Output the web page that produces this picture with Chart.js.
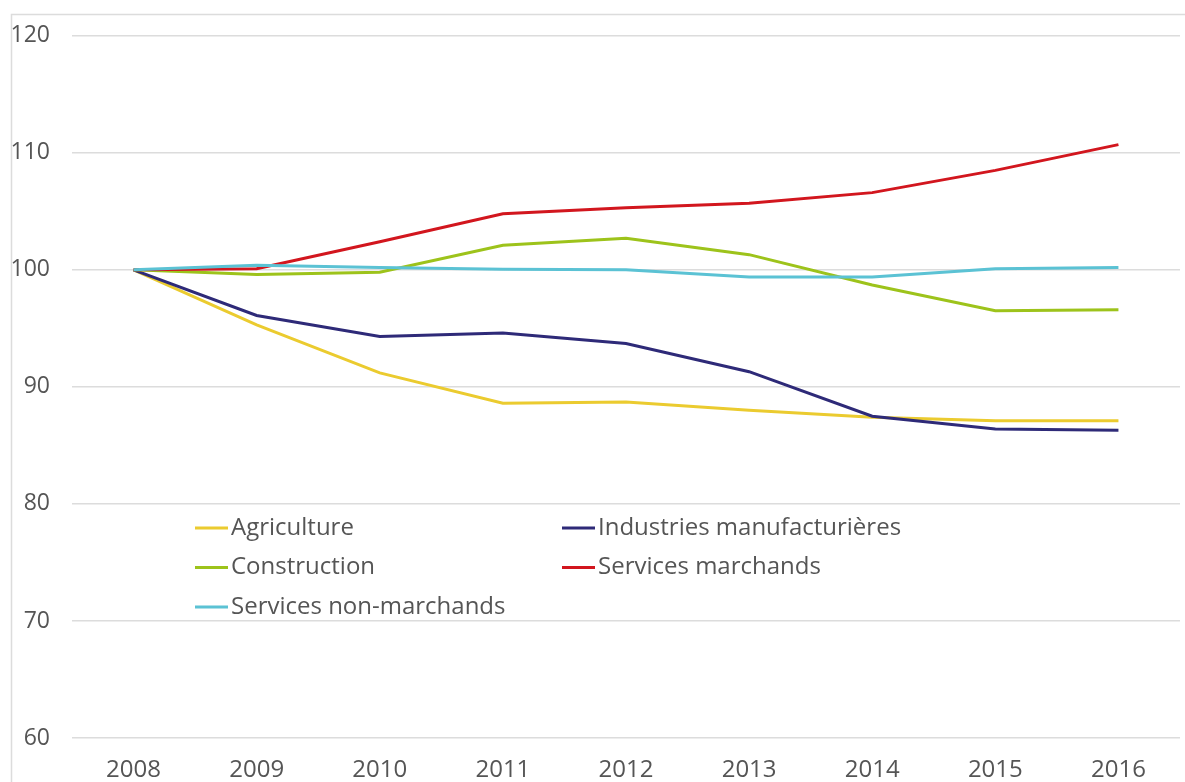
<!DOCTYPE html>
<html>
<head>
<meta charset="utf-8">
<script src="https://cdn.jsdelivr.net/npm/chart.js"></script>
<style>
  html, body { margin: 0; padding: 0; background: #fff; }
  #wrap { position: relative; width: 1185px; height: 782px; }
</style>
</head>
<body>
<div id="wrap"><canvas id="myChart"></canvas></div>
<script>
// data (index, 2008 = 100)
const years = ['2008', '2009', '2010', '2011', '2012', '2013', '2014', '2015', '2016'];
const agriculture = [100, 95.3, 91.2, 88.6, 88.7, 88.0, 87.4, 87.1, 87.1];
const industries = [100, 96.1, 94.3, 94.6, 93.7, 91.3, 87.5, 86.4, 86.3];
const construction = [100, 99.6, 99.8, 102.1, 102.7, 101.3, 98.7, 96.5, 96.6];
const servicesMarchands = [100, 100.1, 102.4, 104.8, 105.3, 105.7, 106.6, 108.5, 110.7];
const servicesNonMarchands = [100, 100.4, 100.2, 100.05, 100.0, 99.4, 99.4, 100.1, 100.2];
const seriesNames = ['Agriculture', 'Industries manufacturières', 'Construction', 'Services marchands', 'Services non-marchands'];
const yTicks = [60, 70, 80, 90, 100, 110, 120];

const colors = ['#EBCB2F', '#2E2A78', '#9DC31B', '#D2161E', '#5BC2D4'];
const allSeries = [agriculture, industries, construction, servicesMarchands, servicesNonMarchands];
const textColor = '#555555';
const gridColor = '#dcdcdc';

// grey frame around the whole picture (only top and left are visible)
const framePlugin = {
    id: 'frame',
    beforeDraw(chart) {
        const ctx = chart.ctx;
        ctx.save();
        ctx.strokeStyle = gridColor;
        ctx.lineWidth = 1.5;
        ctx.strokeRect(11.5, 14.5, chart.width + 10, chart.height + 10);
        ctx.restore();
    }
};

// legend in two columns inside the plot area
const legendPlugin = {
    id: 'gridLegend',
    afterDraw(chart) {
        const ctx = chart.ctx;
        const area = chart.chartArea;
        const x0 = area.left + 123;
        const colGap = 367;
        const y0 = 528;
        const rowGap = 39.5;
        ctx.save();
        ctx.font = '24px "Open Sans"';
        ctx.textBaseline = 'middle';
        ctx.textAlign = 'left';
        chart.data.datasets.forEach((ds, i) => {
            const col = i % 2;
            const row = Math.floor(i / 2);
            const x = x0 + col * colGap;
            const y = y0 + row * rowGap;
            ctx.strokeStyle = ds.borderColor;
            ctx.lineWidth = 3;
            ctx.beginPath();
            ctx.moveTo(x, y);
            ctx.lineTo(x + 33, y);
            ctx.stroke();
            ctx.fillStyle = textColor;
            ctx.fillText(ds.label, x + 36, y);
        });
        ctx.restore();
    }
};

const canvas = document.getElementById('myChart');
new Chart(canvas, {
    type: 'line',
    data: {
        labels: years,
        datasets: allSeries.map((data, i) => ({
            label: seriesNames[i],
            data: data,
            borderColor: colors[i],
            backgroundColor: colors[i],
            borderWidth: 3,
            pointRadius: 0,
            tension: 0,
            order: allSeries.length - i
        }))
    },
    options: {
        responsive: true,
        maintainAspectRatio: false,
        animation: false,
        layout: { padding: { left: 0, right: 5, top: 35, bottom: 0 } },
        plugins: {
            legend: { display: false },
            tooltip: { enabled: false }
        },
        scales: {
            x: {
                offset: true,
                grid: { display: false, drawTicks: false },
                border: { display: false },
                ticks: {
                    color: textColor,
                    font: { family: 'Open Sans', size: 24 },
                    padding: 18,
                    maxRotation: 0
                },
                afterFit: (scale) => { scale.height = 44; }
            },
            y: {
                min: 60,
                max: 120,
                afterBuildTicks: (scale) => { scale.ticks = yTicks.map(v => ({ value: v })); },
                grid: { color: gridColor, lineWidth: 1.5, drawTicks: false },
                border: { display: false },
                ticks: {
                    color: textColor,
                    font: { family: 'Open Sans', size: 23 },
                    padding: 22
                },
                afterFit: (scale) => { scale.width = 72; }
            }
        }
    },
    plugins: [framePlugin, legendPlugin]
});
</script>
</body>
</html>
